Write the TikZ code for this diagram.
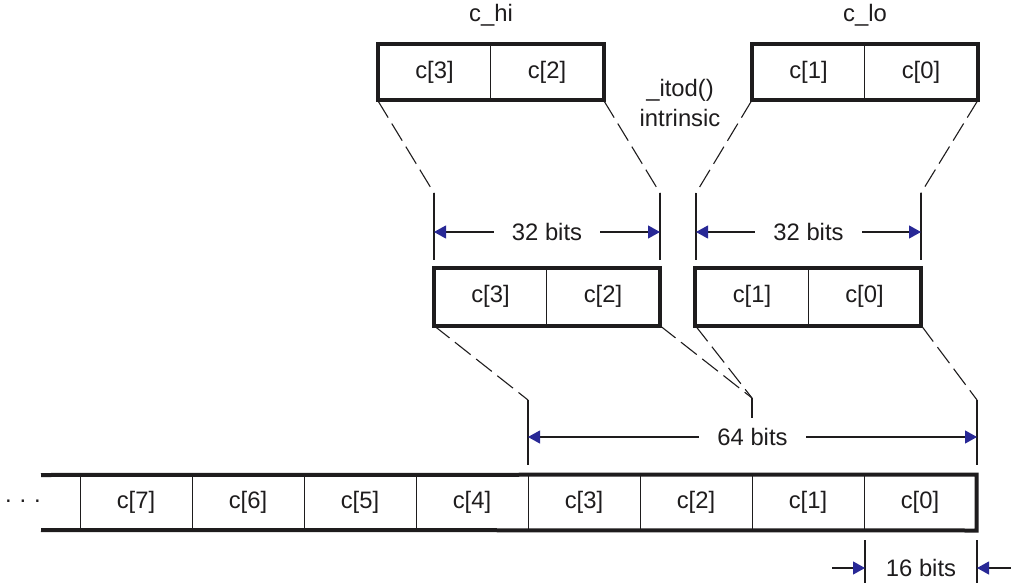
\documentclass[tikz,border=0pt]{standalone}
\usepackage{fontspec}
\setmainfont{Liberation Sans}
\usetikzlibrary{arrows.meta}
\definecolor{tipblue}{RGB}{40,40,150}
\definecolor{ink}{RGB}{30,28,29}
\begin{document}
\begin{tikzpicture}[x=1pt,y=-1pt,
  every node/.style={font=\fontsize{23.8}{25}\selectfont, text=ink},
  cell/.style={draw=ink, line width=1pt, minimum width=112.5pt, minimum height=55pt, inner sep=0pt},
  bcell/.style={cell, minimum width=112pt},
  thickbox/.style={draw=ink, line width=4pt, line join=miter},
  dashline/.style={draw=ink, line width=1.1pt, dash pattern=on 20pt off 7pt},
  extline/.style={draw=ink, line width=1.1pt},
  tipA/.tip={Triangle[length=12pt,width=13pt,color=tipblue]},
  dim/.style={draw=ink, line width=1.1pt, tipA-tipA},
  dimlabel/.style={fill=white, inner xsep=18pt, inner ysep=2pt},
  half/.style={draw=ink, line width=1.1pt, -tipA}
]
\useasboundingbox (0,0) rectangle (1011,583);

% top registers
\node[cell] (h3) at (434.5,72.5) {c[3]};
\node[cell] (h2) at (547,72.5) {c[2]};
\node[cell] (l1) at (808.5,72.5) {c[1]};
\node[cell] (l0) at (921,72.5) {c[0]};
\draw[thickbox] (h3.north west) rectangle (h2.south east);
\draw[thickbox] (l1.north west) rectangle (l0.south east);
\node (chi) at (491,15) {c\_hi};
\node (clo) at (865,15) {c\_lo};
\node[anchor=base] (itod) at (680,97) {\_itod()};
\node[anchor=base] (intr) at (680,127) {intrinsic};

% middle registers
\node[cell, minimum height=57pt] (m3) at (490.5,296.5) {c[3]};
\node[cell, minimum height=57pt] (m2) at (603,296.5) {c[2]};
\node[cell, minimum height=57pt] (m1) at (752,296.5) {c[1]};
\node[cell, minimum height=57pt] (m0) at (864.5,296.5) {c[0]};
\draw[thickbox] (m3.north west) rectangle (m2.south east);
\draw[thickbox] (m1.north west) rectangle (m0.south east);

% bottom register
\node[bcell] (b7) at (136,502.5) {c[7]};
\node[bcell] (b6) at (248,502.5) {c[6]};
\node[bcell] (b5) at (360,502.5) {c[5]};
\node[bcell] (b4) at (472,502.5) {c[4]};
\node[bcell] (b3) at (584,502.5) {c[3]};
\node[bcell] (b2) at (696,502.5) {c[2]};
\node[bcell] (b1) at (808,502.5) {c[1]};
\node[bcell] (b0) at (920,502.5) {c[0]};
\coordinate (rowtl) at (41,475);
\coordinate (rowbl) at (41,530);
\draw[thickbox] (rowtl) -- (b0.north east) -- (b0.south east) -- (rowbl);
\node[anchor=base] (dots) at (23,502) {.\,\,.\,\,.};

% coordinates for extension lines
\coordinate (a1) at (434,193); \coordinate (a1b) at (434,260);
\coordinate (a2) at (660,193); \coordinate (a2b) at (660,260);
\coordinate (a3) at (696,193); \coordinate (a3b) at (696,260);
\coordinate (a4) at (921,193); \coordinate (a4b) at (921,260);
\coordinate (y32) at (0,232);
\coordinate (e1) at (528,400); \coordinate (e1b) at (528,465);
\coordinate (e2) at (752,398); \coordinate (e2b) at (752,418);
\coordinate (e3) at (977,400); \coordinate (e3b) at (977,465);
\coordinate (y64) at (0,437);
\coordinate (f1) at (865,540); \coordinate (f1b) at (865,583);
\coordinate (f2) at (977,540); \coordinate (f2b) at (977,583);
\coordinate (f1o) at (832,568); \coordinate (f2o) at (1011,568);

% top projections
\draw[dashline] (h3.south west) -- (a1);
\draw[dashline] (h2.south east) -- (a2);
\draw[dashline] (l1.south west) -- (a3);
\draw[dashline] (l0.south east) -- (a4);
\draw[extline] (a1) -- (a1b);
\draw[extline] (a2) -- (a2b);
\draw[extline] (a3) -- (a3b);
\draw[extline] (a4) -- (a4b);
\draw[dim] (a1|-y32) -- (a2|-y32) node[midway, dimlabel] (d32a) {32 bits};
\draw[dim] (a3|-y32) -- (a4|-y32) node[midway, dimlabel] (d32b) {32 bits};

% lower projections
\draw[dashline] (m3.south west) -- (e1);
\draw[dashline] (m2.south east) -- (e2);
\draw[dashline] (m1.south west) -- (e2);
\draw[dashline] (m0.south east) -- (e3);
\draw[extline] (e1) -- (e1b);
\draw[extline] (e2) -- (e2b);
\draw[extline] (e3) -- (e3b);
\draw[dim] (e1|-y64) -- (e3|-y64) node[midway, dimlabel] (d64) {64 bits};

% 16 bits
\draw[extline] (f1) -- (f1b);
\draw[extline] (f2) -- (f2b);
\draw[half] (f1o) -- (f1|-f1o);
\draw[half] (f2o) -- (f2|-f2o);
\node (d16) at (921,568) {16 bits};
\end{tikzpicture}
\end{document}
